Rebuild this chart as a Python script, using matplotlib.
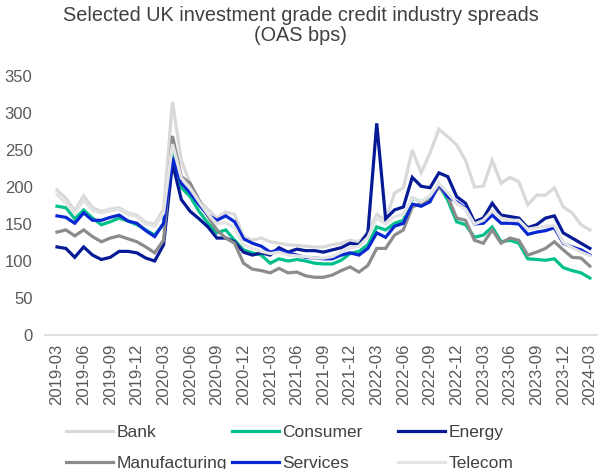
import matplotlib
matplotlib.use("Agg")
import matplotlib.pyplot as plt

plt.rcParams['font.family'] = ['Liberation Sans', 'DejaVu Sans']

# monthly OAS spreads (bps), 2019-03 .. 2024-03
months = ['%d-%02d' % (2019 + (m + 2) // 12, (m + 2) % 12 + 1) for m in range(61)]

bank = [196, 185, 168, 188, 172, 167, 170, 172, 165, 162, 152, 150, 170, 315,
        236, 205, 182, 170, 158, 166, 163, 133, 128, 131, 126, 124, 122, 121,
        120, 119, 119, 122, 124, 128, 126, 139, 163, 155, 192, 199, 250, 219,
        246, 278, 268, 257, 236, 200, 201, 236, 205, 213, 207, 176, 189, 189,
        199, 173, 165, 149, 142]
consumer = [174, 172, 157, 169, 158, 149, 153, 158, 154, 149, 142, 135, 150, 250,
            199, 187, 167, 151, 138, 142, 128, 115, 111, 108, 97, 103, 100, 102,
            100, 97, 96, 96, 101, 110, 113, 122, 146, 142, 151, 155, 185, 180,
            187, 203, 182, 153, 149, 132, 135, 146, 126, 128, 124, 103, 102, 101,
            103, 91, 87, 84, 77]
energy = [119, 117, 105, 119, 108, 102, 105, 113, 113, 111, 104, 100, 122, 232,
          183, 167, 157, 146, 131, 131, 126, 112, 108, 111, 108, 118, 112, 116,
          114, 114, 112, 115, 118, 124, 122, 138, 286, 157, 169, 173, 213, 201,
          199, 219, 214, 187, 178, 153, 158, 178, 162, 160, 158, 145, 149, 158,
          161, 138, 131, 124, 117]
manufacturing = [139, 142, 134, 142, 133, 126, 131, 134, 130, 126, 119, 111, 128, 269,
                 214, 205, 182, 160, 142, 131, 124, 97, 89, 87, 84, 90, 84, 85,
                 80, 78, 78, 81, 87, 92, 85, 94, 117, 117, 135, 142, 173, 178,
                 182, 200, 187, 158, 155, 128, 124, 142, 124, 131, 128, 108, 112, 117,
                 126, 115, 105, 104, 93]
services = [161, 159, 151, 165, 155, 155, 159, 162, 154, 151, 141, 133, 151, 240,
            205, 192, 176, 162, 155, 161, 153, 130, 124, 120, 112, 115, 111, 108,
            105, 104, 103, 103, 108, 111, 108, 117, 138, 132, 147, 151, 177, 174,
            180, 204, 187, 180, 171, 150, 151, 162, 151, 151, 150, 136, 139, 141,
            145, 124, 119, 115, 108]
telecom = [190, 178, 165, 182, 168, 165, 168, 170, 163, 160, 150, 147, 165, 258,
           212, 198, 180, 163, 150, 152, 145, 122, 117, 113, 110, 112, 108, 107,
           106, 104, 104, 106, 112, 118, 120, 132, 158, 150, 160, 163, 185, 180,
           188, 205, 192, 178, 170, 150, 155, 168, 158, 155, 155, 143, 145, 147,
           148, 125, 118, 112, 107]

series = [
    ('Bank', bank, '#d9d9d9'),
    ('Consumer', consumer, '#00c08b'),
    ('Energy', energy, '#061a96'),
    ('Manufacturing', manufacturing, '#8c8c8c'),
    ('Services', services, '#0a28d2'),
    ('Telecom', telecom, '#e3e3e3'),
]

fig = plt.figure(figsize=(6.01, 4.69), dpi=100)
ax = fig.add_axes([45 / 601, 1 - 335 / 469, 552 / 601, 259 / 469])

x = list(range(len(months)))
lines = {}
for name, vals, col in series:
    ln, = ax.plot(x, vals, color=col, lw=2.3, label=name, solid_joinstyle='miter')
    lines[name] = ln

ax.set_ylim(0, 350)
ax.set_xlim(-1.35, 60.8)
ax.set_yticks(range(0, 351, 50))
ax.set_xticks(x[::3])
ax.set_xticklabels(months[::3], rotation=90)
ax.tick_params(axis='both', length=0, labelsize=12, colors='#595959')
ax.tick_params(axis='y', pad=9)
ax.tick_params(axis='x', pad=6)
for s in ['top', 'right', 'left']:
    ax.spines[s].set_visible(False)
ax.spines['bottom'].set_color('#d9d9d9')
ax.spines['bottom'].set_linewidth(1.2)

fig.suptitle('Selected UK investment grade credit industry spreads\n(OAS bps)',
             y=1 - 6 / 469, fontsize=14.3, color='#404040', linespacing=1.08)

# legend: three columns, two rows each
cols = [('Bank', 'Manufacturing', 66), ('Consumer', 'Services', 232), ('Energy', 'Telecom', 398)]
for a, b, px in cols:
    fig.legend(handles=[lines[a], lines[b]], loc='upper left',
               bbox_to_anchor=(px / 601, 1 - 425 / 469), frameon=False,
               fontsize=12.5, labelcolor='#404040', handlelength=2.7,
               handletextpad=0.2, labelspacing=0.9, borderpad=0, borderaxespad=0)

fig.savefig('out.png', dpi=100)
